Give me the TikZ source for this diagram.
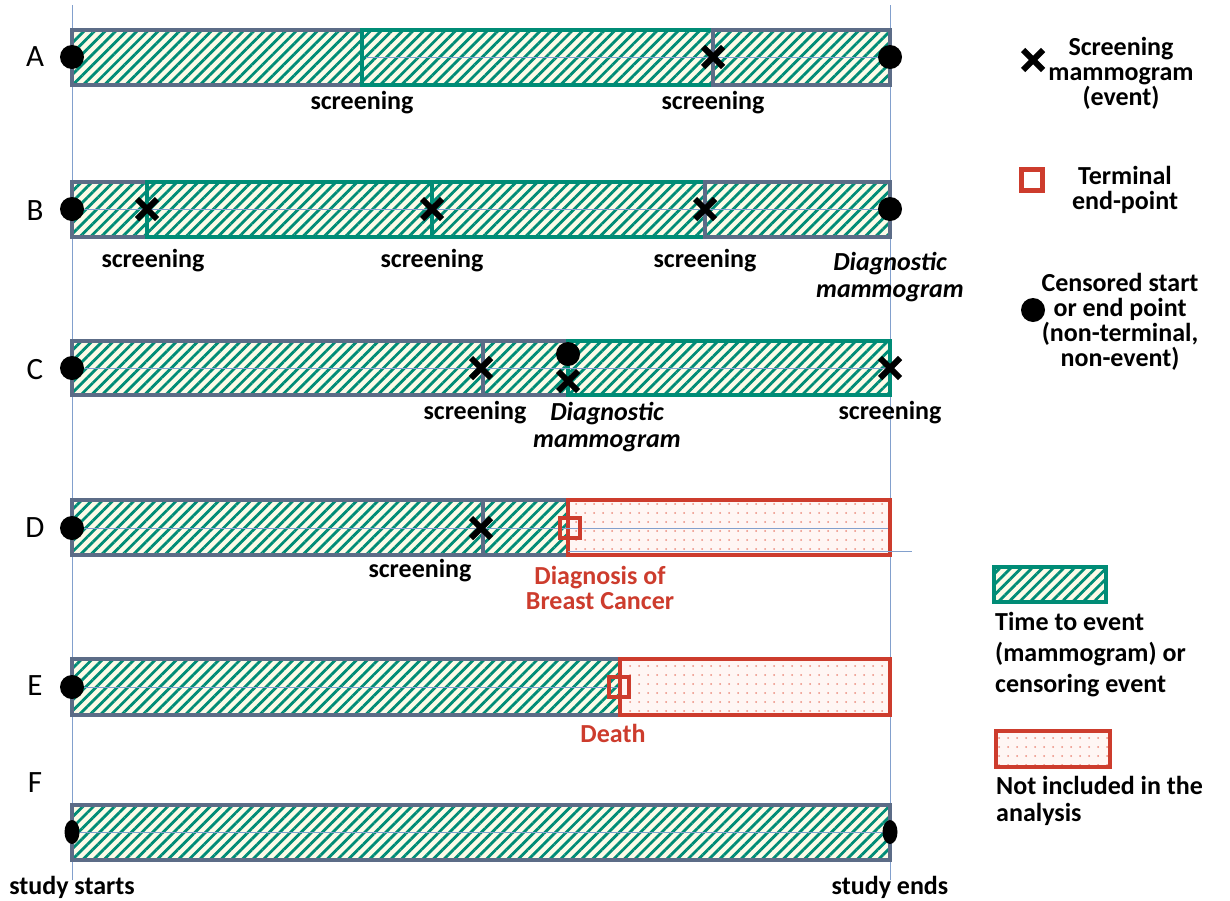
\documentclass[tikz,border=0pt]{standalone}
\usepackage{fontspec}
\setmainfont{Carlito}
\usetikzlibrary{patterns.meta,shapes.misc,shapes.geometric}
\definecolor{tealc}{RGB}{0,140,118}
\definecolor{greyb}{RGB}{92,108,135}
\definecolor{redc}{RGB}{205,60,45}
\definecolor{cream}{RGB}{253,251,232}
\definecolor{lblue}{RGB}{130,160,205}
\definecolor{pinkbg}{RGB}{255,246,244}
\definecolor{dotred}{RGB}{235,140,125}
\begin{document}
\begin{tikzpicture}[x=1pt,y=-1pt,
  hatch/.style={preaction={fill=cream},pattern={Lines[angle=45,distance=7.5pt,line width=2.8pt]},pattern color=tealc,line width=3.5pt},
  hg/.style={hatch,draw=greyb},
  ht/.style={hatch,draw=tealc},
  dotted box/.style={preaction={fill=pinkbg},pattern={Dots[distance=9pt,radius=1pt]},pattern color=dotred,draw=redc,line width=3.5pt},
  cline/.style={lblue,line width=1pt},
  vline/.style={lblue,line width=1pt},
  censor/.style={circle,fill=black,minimum size=24pt,inner sep=0pt},
  censorF/.style={ellipse,fill=black,minimum width=15pt,minimum height=24pt,inner sep=0pt},
  xm/.style={cross out,draw=black,line width=6pt,minimum size=14pt,inner sep=0pt},
  term/.style={rectangle,draw=redc,line width=4.5pt,minimum size=20pt,inner sep=0pt},
  lab/.style={font=\bfseries\fontsize{26}{26}\selectfont,align=center,inner sep=0pt},
  ilab/.style={font=\bfseries\itshape\fontsize{26}{27}\selectfont,align=center,inner sep=0pt},
  rlab/.style={lab,text=redc},
  row/.style={font=\fontsize{31}{31}\selectfont,inner sep=0pt},
  leg/.style={font=\bfseries\fontsize{26}{25}\selectfont,align=center,inner sep=0pt},
  legl/.style={font=\bfseries\fontsize{26}{31}\selectfont,align=left,inner sep=0pt,anchor=north west}
]
\useasboundingbox (0,0) rectangle (1230,900);
\fill[white] (0,0) rectangle (1230,900);
% study lines
\draw[vline] (72,5) -- (72,880);
\draw[vline] (890,5) -- (890,880);
% row letters
\node[row] (rA) at (35,57) {A};
\node[row] (rB) at (35,211) {B};
\node[row] (rC) at (35,370) {C};
\node[row] (rD) at (35,528) {D};
\node[row] (rE) at (35,686) {E};
\node[row] (rF) at (35,783) {F};
% ---- Row A
\draw[hg] (72,30) rectangle (362,85);
\fill[black] (362,48) -- (371,57) -- (362,66) -- cycle;
\draw[ht] (362,30) rectangle (713,85);
\draw[hg] (713,30) rectangle (890,85);
\draw[cline] (366,57) -- (888,57);
\node[censor] (a0) at (72,57) {};
\node[xm] (a2) at (713,57) {};
\node[censor] (a3) at (890,57) {};
\node[lab] (la1) at (362,103) {screening};
\node[lab] (la2) at (713,103) {screening};
% ---- Row B
\draw[hg] (72,182) rectangle (147,237);
\draw[ht] (147,182) rectangle (432,237);
\draw[ht] (432,182) rectangle (705,237);
\draw[hg] (705,182) rectangle (890,237);
\draw[cline] (74,209) -- (888,209);
\node[censor] (b0) at (72,209) {};
\node[xm] (b1) at (147,209) {};
\node[xm] (b2) at (432,209) {};
\node[xm] (b3) at (705,209) {};
\node[censor] (b4) at (890,209) {};
\node[lab] (lb1) at (153,261) {screening};
\node[lab] (lb2) at (432,261) {screening};
\node[lab] (lb3) at (705,261) {screening};
\node[ilab] (lb4) at (890,277) {Diagnostic\\mammogram};
% ---- Row C
\draw[hg] (72,341) rectangle (483,395);
\draw[hg] (483,341) rectangle (568,395);
\draw[ht] (568,341) rectangle (890,395);
\draw[cline] (74,368) -- (888,368);
\node[censor] (c0) at (72,368) {};
\node[xm] (c1) at (481,368) {};
\node[censor] (c2) at (568,354) {};
\node[xm] (c3) at (568,381) {};
\node[xm] (c4) at (890,368) {};
\node[lab] (lc1) at (475,413) {screening};
\node[ilab] (lc2) at (607,427) {Diagnostic\\mammogram};
\node[lab] (lc3) at (890,413) {screening};
% ---- Row D
\draw[hg] (72,500) rectangle (483,555);
\draw[hg] (483,500) rectangle (568,555);
\draw[dotted box] (568,500) rectangle (890,555);
\draw[cline] (74,528) -- (888,528);
\draw[cline] (568,551) -- (912,551);
\node[censor] (d0) at (72,528) {};
\node[xm] (d1) at (481,528) {};
\node[term] (d2) at (570,528) {};
\node[lab] (ld1) at (420,571) {screening};
\node[rlab,font=\bfseries\fontsize{26}{25}\selectfont] (ld2) at (600,588) {Diagnosis of\\Breast Cancer};
% ---- Row E
\draw[hg] (72,659) rectangle (620,715);
\draw[dotted box] (620,659) rectangle (890,715);
\draw[cline] (74,687) -- (618,687);
\node[censor] (e0) at (72,687) {};
\node[term] (e1) at (619,687) {};
\node[rlab] (le1) at (613,733) {Death};
% ---- Row F
\draw[hg] (72,805) rectangle (890,860);
\draw[cline] (74,832) -- (888,832);
\node[censorF] (f0) at (72,832) {};
\node[censorF] (f1) at (890,832) {};
\node[lab] (lf1) at (72,887) {study starts};
\node[lab] (lf2) at (890,887) {study ends};
% ---- Legend
\node[xm] (gx) at (1033,60) {};
\node[leg] (gxt) at (1121,73) {Screening\\mammogram\\(event)};
\node[term,minimum size=21pt] (gs) at (1032,180) {};
\node[leg] (gst) at (1125,190) {Terminal\\end-point};
\node[censor] (gd) at (1033,310) {};
\node[leg] (gdt) at (1120,322) {Censored start\\or end point\\(non-terminal,\\non-event)};
\draw[ht] (994,567) rectangle (1106,602);
\node[legl] (ght) at (995,612) {Time to event\\(mammogram) or\\censoring event};
\draw[dotted box] (996,731) rectangle (1110,767);
\node[legl,font=\bfseries\fontsize{26}{27}\selectfont] (gpt) at (996,776) {Not included in the\\analysis};
\end{tikzpicture}
\end{document}
